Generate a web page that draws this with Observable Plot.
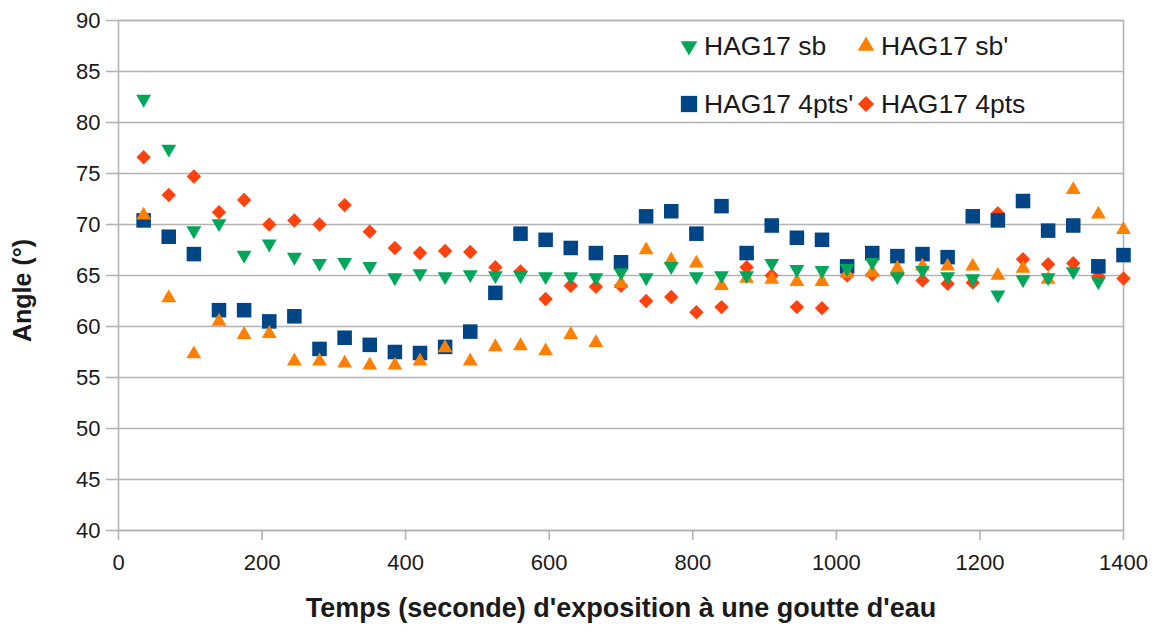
<!DOCTYPE html>
<html>
<head>
<meta charset="utf-8">
<script src="https://cdn.jsdelivr.net/npm/d3@7"></script>
<script src="https://cdn.jsdelivr.net/npm/@observablehq/plot@0.6"></script>
<style>
  body { margin: 0; background: #ffffff; }
  #chart { position: relative; width: 1161px; height: 632px; font-family: "Liberation Sans", Arial, sans-serif; }
  #legend { position: absolute; left: 0; top: 0; pointer-events: none; }
</style>
</head>
<body>
<div id="chart"></div>
<script>
// ---- Data ----
const times = [35, 70, 105, 140, 175, 210, 245, 280, 315, 350,
               385, 420, 455, 490, 525, 560, 595, 630, 665, 700,
               735, 770, 805, 840, 875, 910, 945, 980, 1015, 1050,
               1085, 1120, 1155, 1190, 1225, 1260, 1295, 1330, 1365, 1400];

const seriesNames = ["HAG17 sb", "HAG17 sb'", "HAG17 4pts'", "HAG17 4pts"];

const sbValues = [82.3, 77.4, 69.4, 70.1, 67.0, 68.1, 66.8, 66.2, 66.3, 65.9,
                  64.8, 65.2, 64.9, 65.1, 65.0, 65.0, 64.9, 64.9, 64.8, 65.3,
                  64.8, 65.9, 64.9, 65.0, 65.0, 66.2, 65.6, 65.5, 65.7, 66.3,
                  64.9, 65.5, 64.9, 64.7, 63.1, 64.6, 64.8, 65.4, 64.4, null];

const sbPrimeValues = [70.9, 62.8, 57.3, 60.5, 59.2, 59.3, 56.6, 56.6, 56.4, 56.2,
                       56.2, 56.6, 57.9, 56.6, 58.0, 58.1, 57.6, 59.2, 58.4, 64.2,
                       67.5, 66.5, 66.2, 64.0, 64.7, 64.6, 64.4, 64.4, 65.2, 65.3,
                       65.7, 65.9, 65.9, 65.9, 65.0, 65.7, 64.6, 73.4, 71.0, 69.5];

const pts4PrimeValues = [70.4, 68.8, 67.1, 61.6, 61.6, 60.5, 61.0, 57.8, 58.9, 58.2,
                         57.5, 57.4, 58.0, 59.5, 63.3, 69.1, 68.5, 67.7, 67.2, 66.3,
                         70.8, 71.3, 69.1, 71.8, 67.2, 69.9, 68.7, 68.5, 65.9, 67.2,
                         66.9, 67.1, 66.8, 70.8, 70.4, 72.3, 69.4, 69.9, 65.9, 67.0];

const pts4Values = [76.6, 72.9, 74.7, 71.2, 72.4, 70.0, 70.4, 70.0, 71.9, 69.3,
                    67.7, 67.2, 67.4, 67.3, 65.8, 65.4, 62.7, 64.0, 63.9, 64.0,
                    62.5, 62.9, 61.4, 61.9, 65.8, 65.0, 61.9, 61.8, 65.0, 65.1,
                    65.1, 64.5, 64.2, 64.3, 71.1, 66.6, 66.1, 66.2, 64.9, 64.7];

const xTicks = [0, 200, 400, 600, 800, 1000, 1200, 1400];
const yTicks = [40, 45, 50, 55, 60, 65, 70, 75, 80, 85, 90];
const xTitle = "Temps (seconde) d'exposition à une goutte d'eau";
const yTitle = "Angle (°)";

// ---- Styles ----
const colors = {
  "HAG17 sb": "#00a65a",
  "HAG17 sb'": "#ff8000",
  "HAG17 4pts'": "#004586",
  "HAG17 4pts": "#ff420e"
};
const symbols = {
  "HAG17 sb": "triangle2",
  "HAG17 sb'": "triangle2",
  "HAG17 4pts'": "square",
  "HAG17 4pts": "diamond2"
};
const rotations = {"HAG17 sb": 180, "HAG17 sb'": 0, "HAG17 4pts'": 0, "HAG17 4pts": 0};
const radii = {"HAG17 sb": 7.1, "HAG17 sb'": 7.1, "HAG17 4pts'": 8.2, "HAG17 4pts": 6.5};

const valuesBySeries = {
  "HAG17 sb": sbValues,
  "HAG17 sb'": sbPrimeValues,
  "HAG17 4pts'": pts4PrimeValues,
  "HAG17 4pts": pts4Values
};

function seriesRows(name) {
  return times.map((t, i) => ({t, v: valuesBySeries[name][i], s: name}))
              .filter(d => d.v != null);
}

// drawing order (bottom to top)
const drawOrder = ["HAG17 4pts", "HAG17 4pts'", "HAG17 sb'", "HAG17 sb"];

const grid = "#b3b3b3";
const textColor = "#1a1a1a";

const dotMarks = drawOrder.map(name => Plot.dot(seriesRows(name), {
  x: "t", y: "v",
  symbol: () => symbols[name],
  r: radii[name],
  rotate: rotations[name],
  fill: colors[name],
  stroke: "none"
}));

const chart = Plot.plot({
  width: 1161,
  height: 632,
  marginLeft: 118,
  marginRight: 38,
  marginTop: 20,
  marginBottom: 102,
  style: {fontFamily: "'Liberation Sans', Arial, sans-serif", background: "#ffffff", overflow: "visible"},
  x: {domain: [0, 1400], label: null},
  y: {domain: [40, 90], label: null},
  marks: [
    Plot.gridY(yTicks, {stroke: grid, strokeOpacity: 1, strokeWidth: 1.6}),
    Plot.frame({stroke: grid, strokeWidth: 1.6}),
    Plot.axisY(yTicks, {tickSize: 12, tickPadding: 6, stroke: grid, strokeWidth: 1.6, fill: textColor, fontSize: 22, label: null}),
    Plot.axisX(xTicks, {tickSize: 10, tickPadding: 14, stroke: grid, strokeWidth: 1.6, fill: textColor, fontSize: 22, label: null, tickFormat: d3.format("d")}),
    Plot.text([yTitle], {frameAnchor: "left", textAnchor: "middle", rotate: -90, dx: -96, dy: 15, fontWeight: "bold", fontSize: 25, fill: textColor}),
    Plot.text([xTitle], {frameAnchor: "bottom", textAnchor: "middle", dy: 86, fontWeight: "bold", fontSize: 27, fill: textColor}),
    ...dotMarks
  ]
});

const container = document.getElementById("chart");
container.appendChild(chart);

// ---- Legend (overlay, built from the series names) ----
const legendItems = [
  {name: seriesNames[0], x: 689, y: 46},
  {name: seriesNames[1], x: 866, y: 46},
  {name: seriesNames[2], x: 689, y: 104},
  {name: seriesNames[3], x: 866, y: 104}
];
const svg = d3.select(container).append("svg")
  .attr("id", "legend")
  .attr("width", 1161).attr("height", 632);
for (const it of legendItems) {
  const r = radii[it.name] * 1.12;
  const sym = {triangle2: d3.symbolTriangle2, square: d3.symbolSquare, diamond2: d3.symbolDiamond2}[symbols[it.name]];
  svg.append("path")
    .attr("d", d3.symbol(sym, Math.PI * r * r)())
    .attr("transform", `translate(${it.x},${it.y}) rotate(${rotations[it.name]})`)
    .attr("fill", colors[it.name]);
  svg.append("text")
    .attr("x", it.x + 15).attr("y", it.y)
    .attr("dy", "0.35em")
    .attr("font-family", "'Liberation Sans', Arial, sans-serif")
    .attr("font-size", 26.5)
    .attr("fill", textColor)
    .text(it.name);
}
</script>
</body>
</html>
